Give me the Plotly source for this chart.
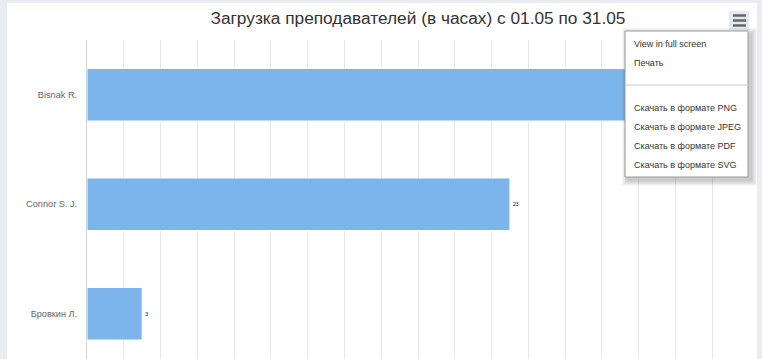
import plotly.graph_objects as go

categories = ["Bisnak R.", "Connor S. J.", "Бровкин Л."]
hours = [34, 23, 3]
title_text = "Загрузка преподавателей (в часах) с 01.05 по 31.05"
menu_items = ["View in full screen", "Печать", None,
              "Скачать в формате PNG", "Скачать в формате JPEG",
              "Скачать в формате PDF", "Скачать в формате SVG"]

W, H = 762, 359
PL, PR, PT, PB = 87, 749, 40, 359
FONT = "Liberation Sans, Arial, sans-serif"


def px(x):
    return (x - PL) / (PR - PL)


def py(y):
    return (PB - y) / (PB - PT)


fig = go.Figure()
fig.add_trace(go.Bar(
    y=categories, x=hours, orientation="h",
    marker=dict(color="#7cb5ec", line=dict(color="#ffffff", width=1)),
    text=[str(v) for v in hours], textposition="outside",
    textfont=dict(size=5, color="#000000", family=FONT),
    cliponaxis=False, hoverinfo="skip",
))

shapes = []
# white chart card on grey page
shapes.append(dict(type="rect", xref="paper", yref="paper", layer="below",
                   x0=px(7), x1=px(757), y0=py(3), y1=py(400),
                   fillcolor="#ffffff", line=dict(width=0)))
# hamburger button
shapes.append(dict(type="rect", xref="paper", yref="paper", layer="above",
                   x0=px(729), x1=px(749), y0=py(11), y1=py(30),
                   fillcolor="#e6e9ef", line=dict(width=0)))
for yy in (15.5, 20.5, 25.5):
    shapes.append(dict(type="line", xref="paper", yref="paper", layer="above",
                       x0=px(733), x1=px(746), y0=py(yy), y1=py(yy),
                       line=dict(color="#666666", width=2.5)))
# menu shadow
for i in range(1, 7):
    shapes.append(dict(type="rect", xref="paper", yref="paper", layer="above",
                       x0=px(625 + 3 - i), x1=px(748 + 3 + i),
                       y0=py(31 + 3 - i), y1=py(177 + 3 + i),
                       fillcolor="rgba(0,0,0,0.035)", line=dict(width=0)))
# menu box
shapes.append(dict(type="rect", xref="paper", yref="paper", layer="above",
                   x0=px(625), x1=px(748), y0=py(31), y1=py(177),
                   fillcolor="#ffffff", line=dict(color="#999999", width=1)))
# separator
shapes.append(dict(type="line", xref="paper", yref="paper", layer="above",
                   x0=px(626), x1=px(747), y0=py(85), y1=py(85),
                   line=dict(color="#cccccc", width=1)))

annotations = []
item_y = [44, 63, None, 108, 127, 146, 165]
for label, yy in zip(menu_items, item_y):
    if label is None:
        continue
    annotations.append(dict(xref="paper", yref="paper", x=px(633), y=py(yy),
                            text=label, showarrow=False, xanchor="left",
                            yanchor="middle", borderpad=0,
                            font=dict(family=FONT, size=9, color="#333333")))

fig.update_layout(
    width=W, height=H,
    margin=dict(l=PL, r=W - PR, t=PT, b=H - PB, pad=0),
    paper_bgcolor="#e9ecf1", plot_bgcolor="#ffffff",
    showlegend=False,
    bargap=0.52,
    title=dict(text=title_text, x=0.5, xref="paper", xanchor="center",
               y=1 - 18 / H, yref="container", yanchor="middle",
               font=dict(family=FONT, size=17.3, color="#333333")),
    xaxis=dict(range=[0, 36], dtick=2, tick0=0, showgrid=True,
               gridcolor="#e6e6e6", gridwidth=1, zeroline=False,
               showticklabels=False, ticks="", showline=False,
               fixedrange=True),
    yaxis=dict(type="category", categoryorder="array", categoryarray=categories,
               range=[-0.5 + (PB - PT) / 109.5, -0.5],
               showgrid=False, zeroline=False, showline=True,
               linecolor="#ccd6eb", linewidth=1, ticks="",
               ticklabelstandoff=7,
               tickfont=dict(family=FONT, size=9.2, color="#666666"),
               fixedrange=True),
    shapes=shapes, annotations=annotations,
    font=dict(family=FONT),
)

fig.write_html("out.html", config={"displayModeBar": False})
